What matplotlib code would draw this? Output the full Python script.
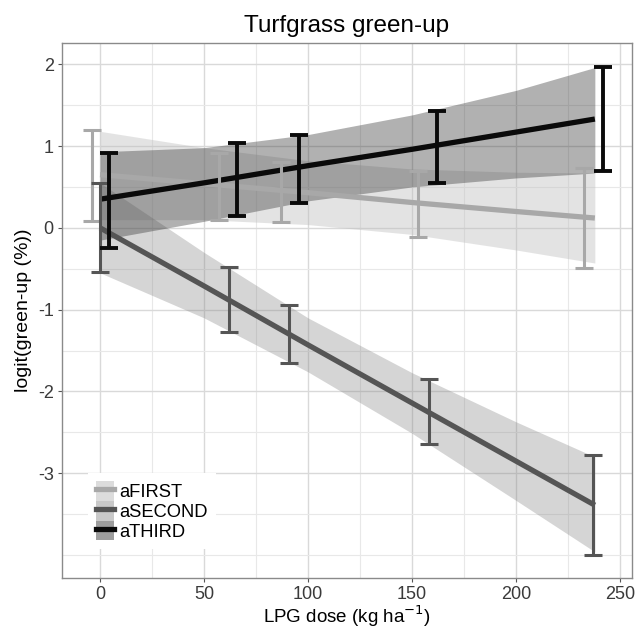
import numpy as np
import matplotlib.pyplot as plt
from matplotlib.patches import Patch
from matplotlib.lines import Line2D
from matplotlib.ticker import MultipleLocator, FixedLocator

plt.rcParams['font.family'] = ['Liberation Sans', 'DejaVu Sans']
plt.rcParams['axes.unicode_minus'] = False

series = ['aFIRST', 'aSECOND', 'aTHIRD']

# fitted lines and confidence ribbons
fit_x = [0, 50, 100, 150, 200, 238]
fit_first = [0.65, 0.54, 0.43, 0.31, 0.20, 0.12]
lo_first = [0.10, 0.10, 0.04, -0.08, -0.27, -0.43]
hi_first = [1.18, 0.98, 0.82, 0.72, 0.68, 0.67]
fit_second = [0.00, -0.71, -1.43, -2.14, -2.85, -3.39]
lo_second = [-0.55, -1.10, -1.76, -2.51, -3.33, -3.96]
hi_second = [0.55, -0.30, -1.10, -1.77, -2.37, -2.80]
fit_third = [0.35, 0.55, 0.76, 0.96, 1.17, 1.33]
lo_third = [-0.15, 0.08, 0.33, 0.50, 0.61, 0.67]
hi_third = [0.93, 0.98, 1.14, 1.38, 1.68, 1.96]

# error bars (dodged doses)
eb_x_first = [-4, 57, 87, 153, 233]
eb_lo_first = [0.085, 0.10, 0.07, -0.11, -0.49]
eb_hi_first = [1.20, 0.92, 0.81, 0.70, 0.73]
eb_x_second = [0, 62, 91, 158, 237]
eb_lo_second = [-0.54, -1.27, -1.65, -2.64, -4.00]
eb_hi_second = [0.55, -0.48, -0.94, -1.85, -2.78]
eb_x_third = [4.5, 66, 95.5, 162, 242]
eb_lo_third = [-0.25, 0.15, 0.30, 0.55, 0.69]
eb_hi_third = [0.92, 1.04, 1.13, 1.43, 1.96]

y_ticks = [-3, -2, -1, 0, 1, 2]

fits = [fit_first, fit_second, fit_third]
los = [lo_first, lo_second, lo_third]
his = [hi_first, hi_second, hi_third]
eb_xs = [eb_x_first, eb_x_second, eb_x_third]
eb_los = [eb_lo_first, eb_lo_second, eb_lo_third]
eb_his = [eb_hi_first, eb_hi_second, eb_hi_third]

line_cols = ['#a8a8a8', '#555555', '#0a0a0a']
rib_cols = ['#bbbbbb', '#888888', '#333333']
rib_alpha = [0.4, 0.35, 0.38]
eb_lw = [2.2, 2.2, 2.8]

fig = plt.figure(figsize=(6.36, 6.28), dpi=100)
ax = fig.add_axes([0.0975, 0.0796, 0.896, 0.852])

for i in range(3):
    ax.fill_between(fit_x, los[i], his[i], color=rib_cols[i], alpha=rib_alpha[i],
                    linewidth=0, zorder=2)

for i in range(3):
    ax.plot(fit_x, fits[i], color=line_cols[i], lw=3.8, zorder=3, solid_capstyle='butt')
    lo = np.array(eb_los[i])
    hi = np.array(eb_his[i])
    mid = (lo + hi) / 2
    ax.errorbar(eb_xs[i], mid, yerr=[mid - lo, hi - mid], fmt='none',
                ecolor=line_cols[i], elinewidth=eb_lw[i], capsize=6.5,
                capthick=eb_lw[i], zorder=4)

ax.set_xlim(-18.3, 255.8)
ax.set_ylim(-4.28, 2.26)
ax.xaxis.set_major_locator(MultipleLocator(50))
ax.xaxis.set_minor_locator(MultipleLocator(25))
ax.yaxis.set_major_locator(FixedLocator(y_ticks))
ax.yaxis.set_minor_locator(FixedLocator([-4, -3.5, -2.5, -1.5, -0.5, 0.5, 1.5]))
ax.grid(which='major', color='#d9d9d9', lw=1.0, zorder=0)
ax.grid(which='minor', color='#e8e8e8', lw=0.8, zorder=0)
ax.set_axisbelow(True)
ax.tick_params(which='major', length=3, width=0.8, color='#555555',
               labelsize=13, labelcolor='#3a3a3a', pad=3)
ax.tick_params(which='minor', length=0)
for s in ax.spines.values():
    s.set_color('#8a8a8a')
    s.set_linewidth(1.0)

ax.set_title('Turfgrass green-up', fontsize=17.5, pad=8)
ax.set_xlabel('LPG dose (kg ha$^{-1}$)', fontsize=13.5, labelpad=0)
ax.set_ylabel('logit(green-up (%))', fontsize=14, labelpad=4)

handles = []
for i in range(3):
    p = Patch(facecolor=rib_cols[i], alpha=rib_alpha[i] + 0.1, edgecolor='none')
    l = Line2D([], [], color=line_cols[i], lw=3.8)
    handles.append((p, l))
leg = ax.legend(handles, series, loc='upper left', bbox_to_anchor=(0.046, 0.196),
                fontsize=13.2, frameon=True, facecolor='white', edgecolor='none',
                framealpha=1, fancybox=False, handlelength=0.95, handleheight=1.25,
                labelspacing=0.0, handletextpad=0.3, borderpad=0.45, borderaxespad=0)
leg.set_zorder(5)

fig.savefig('out.png', dpi=100)
